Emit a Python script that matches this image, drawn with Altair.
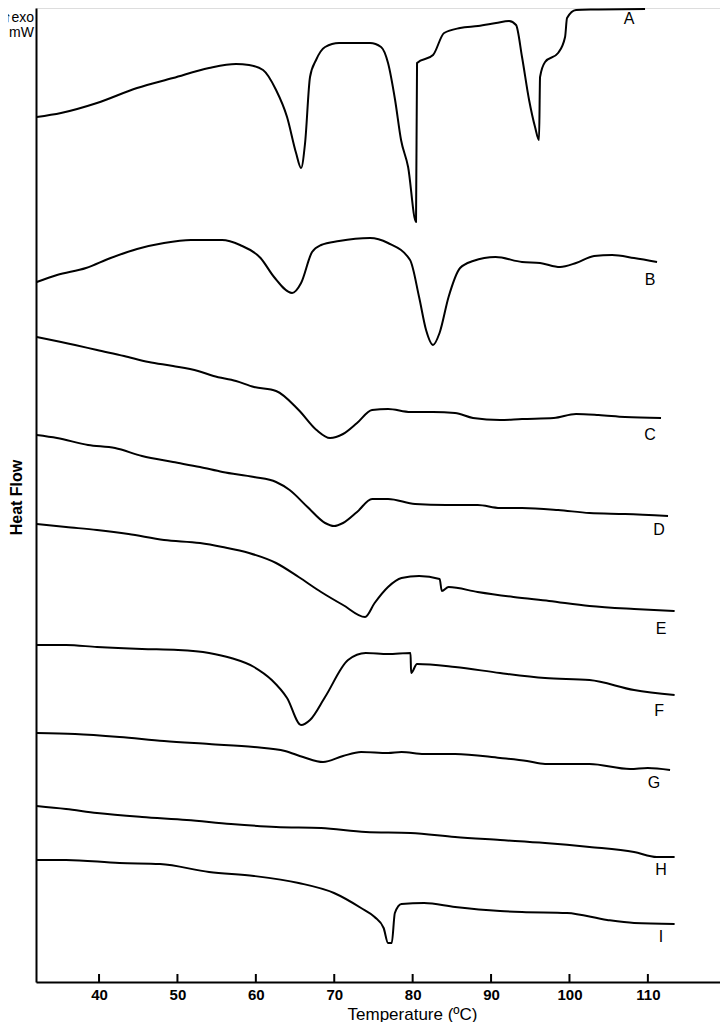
import altair as alt
import pandas as pd

# Temperature (°C) and heat flow (arbitrary mW units, curves stacked)
A_T = [32.05, 35.15, 39.74, 44.85, 49.44, 54.03, 57.47, 59.13, 60.92, 62.58, 63.98, 65.13, 65.77, 66.28,
       66.91, 67.68, 68.83, 70.61, 74.57, 75.97, 76.86, 77.76, 78.52, 79.42, 80.43, 80.56, 82.60, 84.01,
       86.05, 88.34, 90.64, 92.30, 93.19, 93.95, 94.85, 95.61, 96.12, 96.25, 96.89, 98.55, 99.44, 99.69,
       100.84, 103.14, 109.64]
A_HF = [86.5, 86.9, 87.9, 89.4, 90.4, 91.4, 91.8, 91.7, 91.2, 89.2, 86.5, 82.9, 81.4, 83.9,
        90.5, 92.2, 93.5, 93.9, 93.9, 93.5, 91.9, 88.2, 84.2, 81.5, 76.0, 91.9, 92.7, 94.9,
        95.4, 95.6, 95.9, 96.1, 95.7, 92.5, 88.2, 85.5, 84.2, 90.5, 92.0, 92.9, 94.5, 96.4,
        97.2, 97.25, 97.3]

B_T = [32.05, 34.64, 38.34, 41.48, 44.85, 48.29, 51.73, 55.69, 57.98, 60.60, 62.32, 64.62, 65.77, 67.17,
       68.32, 70.61, 74.57, 76.86, 79.67, 80.82, 81.71, 82.60, 83.43, 84.58, 86.05, 87.70, 90.57, 93.95,
       96.25, 98.80, 100.84, 103.14, 105.43, 108.24, 111.17]
B_HF = [70.0, 70.7, 71.4, 72.4, 73.3, 73.9, 74.2, 74.2, 73.7, 72.4, 70.5, 68.9, 69.9, 73.0,
        73.7, 74.1, 74.4, 73.9, 72.2, 68.5, 65.2, 63.7, 64.9, 68.5, 71.4, 72.1, 72.5, 72.0,
        71.9, 71.5, 71.9, 72.6, 72.7, 72.4, 72.0]

C_T = [32.05, 36.94, 39.74, 43.19, 46.33, 49.44, 52.63, 54.60, 57.47, 59.77, 62.58, 65.46, 67.74, 69.46,
       71.12, 72.91, 74.82, 76.86, 79.73, 82.60, 85.41, 87.70, 91.15, 93.95, 98.00, 100.84, 103.71,
       107.09, 111.68]
C_HF = [64.5, 63.7, 63.2, 62.6, 62.0, 61.6, 61.1, 60.6, 60.1, 59.5, 59.1, 57.2, 55.2, 54.4,
        54.8, 55.9, 57.2, 57.3, 57.0, 57.0, 56.9, 56.4, 56.2, 56.3, 56.4, 56.8, 56.7,
        56.5, 56.4]

D_T = [32.05, 34.64, 38.60, 42.04, 45.48, 49.44, 52.88, 55.75, 59.77, 62.58, 64.31, 66.59, 68.83, 69.97,
       71.12, 72.91, 74.82, 76.86, 80.31, 84.26, 88.29, 91.15, 93.95, 98.55, 102.56, 107.09, 112.57]
D_HF = [54.7, 54.4, 53.7, 53.4, 52.6, 52.0, 51.5, 51.0, 50.5, 50.0, 49.2, 47.5, 45.9, 45.6,
        45.9, 47.0, 48.3, 48.3, 47.8, 47.7, 47.7, 47.4, 47.4, 47.2, 46.9, 46.8, 46.6]

E_T = [32.05, 35.79, 39.74, 43.76, 48.29, 52.88, 55.75, 59.13, 62.58, 65.46, 68.32, 71.12, 73.93, 75.15,
       76.86, 78.58, 80.82, 83.44, 83.72, 84.58, 88.29, 92.86, 97.40, 102.56, 108.24, 113.41]
E_HF = [45.8, 45.5, 45.2, 44.8, 44.2, 43.9, 43.5, 42.9, 41.9, 40.5, 39.0, 37.7, 36.5, 37.9,
        39.5, 40.4, 40.6, 40.3, 39.1, 39.5, 39.0, 38.5, 38.1, 37.6, 37.3, 37.1]

F_T = [32.05, 35.79, 39.74, 45.48, 50.08, 54.03, 56.84, 59.77, 62.03, 63.98, 65.77, 66.91, 68.83, 71.76,
       74.02, 76.86, 79.73, 79.80, 80.56, 85.41, 91.15, 96.89, 102.56, 108.24, 113.41]
F_HF = [33.7, 33.7, 33.5, 33.3, 33.2, 32.9, 32.4, 31.5, 30.2, 28.4, 25.7, 26.2, 28.5, 32.2,
        32.9, 32.8, 32.9, 30.9, 31.8, 31.5, 30.9, 30.4, 30.2, 29.2, 28.7]

G_T = [32.05, 36.94, 42.61, 48.29, 54.03, 59.77, 63.72, 66.02, 68.57, 71.12, 73.42, 76.86, 78.58, 81.45,
       85.41, 91.15, 94.59, 96.89, 102.56, 107.73, 109.99, 112.83]
G_HF = [24.9, 24.8, 24.5, 24.1, 23.8, 23.5, 23.1, 22.5, 22.0, 22.6, 23.0, 22.9, 23.0, 22.8,
        22.8, 22.4, 22.1, 21.8, 21.8, 21.3, 21.4, 21.2]

H_T = [32.0, 35.79, 39.74, 45.48, 51.19, 56.84, 62.58, 68.32, 74.02, 79.73, 85.41, 91.15, 96.89, 102.56,
       108.24, 111.14, 113.41]
H_HF = [17.6, 17.3, 16.9, 16.5, 16.2, 15.8, 15.5, 15.4, 15.0, 14.9, 14.5, 14.2, 13.9, 13.5,
        13.0, 12.5, 12.5]

I_T = [32.0, 35.79, 42.61, 47.78, 54.03, 59.77, 65.46, 69.97, 73.42, 75.15, 76.30, 76.86, 77.33, 77.73,
       78.58, 81.45, 85.41, 91.15, 93.95, 99.69, 104.80, 108.24, 113.41]
I_HF = [12.2, 12.2, 11.9, 11.8, 11.0, 10.6, 9.9, 8.9, 7.4, 6.5, 5.4, 3.9, 3.9, 6.9,
        7.8, 7.9, 7.5, 7.1, 7.0, 6.9, 6.2, 5.9, 5.8]

CURVE_NAMES = ["A", "B", "C", "D", "E", "F", "G", "H", "I"]
LABEL_T = [107.6, 110.28, 110.28, 111.43, 111.68, 111.43, 110.79, 111.68, 111.68]
LABEL_HF = [96.3, 70.2, 54.7, 45.2, 35.3, 27.1, 19.9, 11.2, 4.5]

TICK_VALUES = [40, 50, 60, 70, 80, 90, 100, 110]

series = {
    "A": (A_T, A_HF), "B": (B_T, B_HF), "C": (C_T, C_HF), "D": (D_T, D_HF), "E": (E_T, E_HF),
    "F": (F_T, F_HF), "G": (G_T, G_HF), "H": (H_T, H_HF), "I": (I_T, I_HF),
}
rows = []
for name, (ts, hs) in series.items():
    for i, (t, h) in enumerate(zip(ts, hs)):
        rows.append({"curve": name, "T": t, "HF": h, "i": i})
df = pd.DataFrame(rows)
labels_df = pd.DataFrame({"curve": CURVE_NAMES, "T": LABEL_T, "HF": LABEL_HF})
ticks_df = pd.DataFrame({"T": TICK_VALUES})

FONT = "Liberation Sans"

xscale = alt.Scale(domain=[31.96, 119.2], nice=False, zero=False)
yscale = alt.Scale(domain=[0, 97.4], nice=False, zero=False)

lines = alt.Chart(df).mark_line(color="black", strokeWidth=2, strokeJoin="round",
                                interpolate="monotone").encode(
    x=alt.X("T:Q", scale=xscale,
            axis=alt.Axis(values=TICK_VALUES, ticks=False, tickSize=0, grid=False,
                          labelFont=FONT, labelFontSize=15, labelFontWeight="bold",
                          labelColor="black", labelPadding=5,
                          domainColor="black", domainWidth=2,
                          title="Temperature (ºC)", titleFont=FONT, titleFontSize=17,
                          titleFontWeight="normal", titleColor="black",
                          titleX=376, titleY=37, titleAlign="center", titleBaseline="alphabetic")),
    y=alt.Y("HF:Q", scale=yscale,
            axis=alt.Axis(labels=False, ticks=False, tickSize=0, grid=False,
                          domainColor="black", domainWidth=2,
                          title="Heat Flow", titleFont=FONT, titleFontSize=16,
                          titleFontWeight="bold", titleColor="black",
                          titleAngle=270, titleX=-20, titleY=489,
                          titleAlign="center", titleBaseline="middle")),
    detail="curve:N",
    order="i:Q",
)

tick_marks = alt.Chart(ticks_df).mark_rule(color="black", strokeWidth=2).encode(
    x=alt.X("T:Q", scale=xscale),
    y=alt.value(966),
    y2=alt.value(974),
)

letters = alt.Chart(labels_df).mark_text(font=FONT, fontSize=16, color="black").encode(
    x=alt.X("T:Q", scale=xscale),
    y=alt.Y("HF:Q", scale=yscale),
    text="curve:N",
)

exo = alt.Chart(pd.DataFrame({"t": ["↑exo"]})).mark_text(
    font=FONT, fontSize=14, align="right", baseline="alphabetic", color="black"
).encode(x=alt.value(-2), y=alt.value(14), text="t:N")

mw = alt.Chart(pd.DataFrame({"t": ["mW"]})).mark_text(
    font=FONT, fontSize=14, align="right", baseline="alphabetic", color="black"
).encode(x=alt.value(-2), y=alt.value(29), text="t:N")

chart = alt.layer(lines, tick_marks, letters, exo, mw).properties(
    width=684, height=974,
    padding={"left": 28, "top": 0, "right": 0, "bottom": 40},
    autosize=alt.AutoSizeParams(type="none"),
).configure_view(stroke=None).configure(background="white")

chart.save("out.html", embed_options={"renderer": "svg", "actions": False})
